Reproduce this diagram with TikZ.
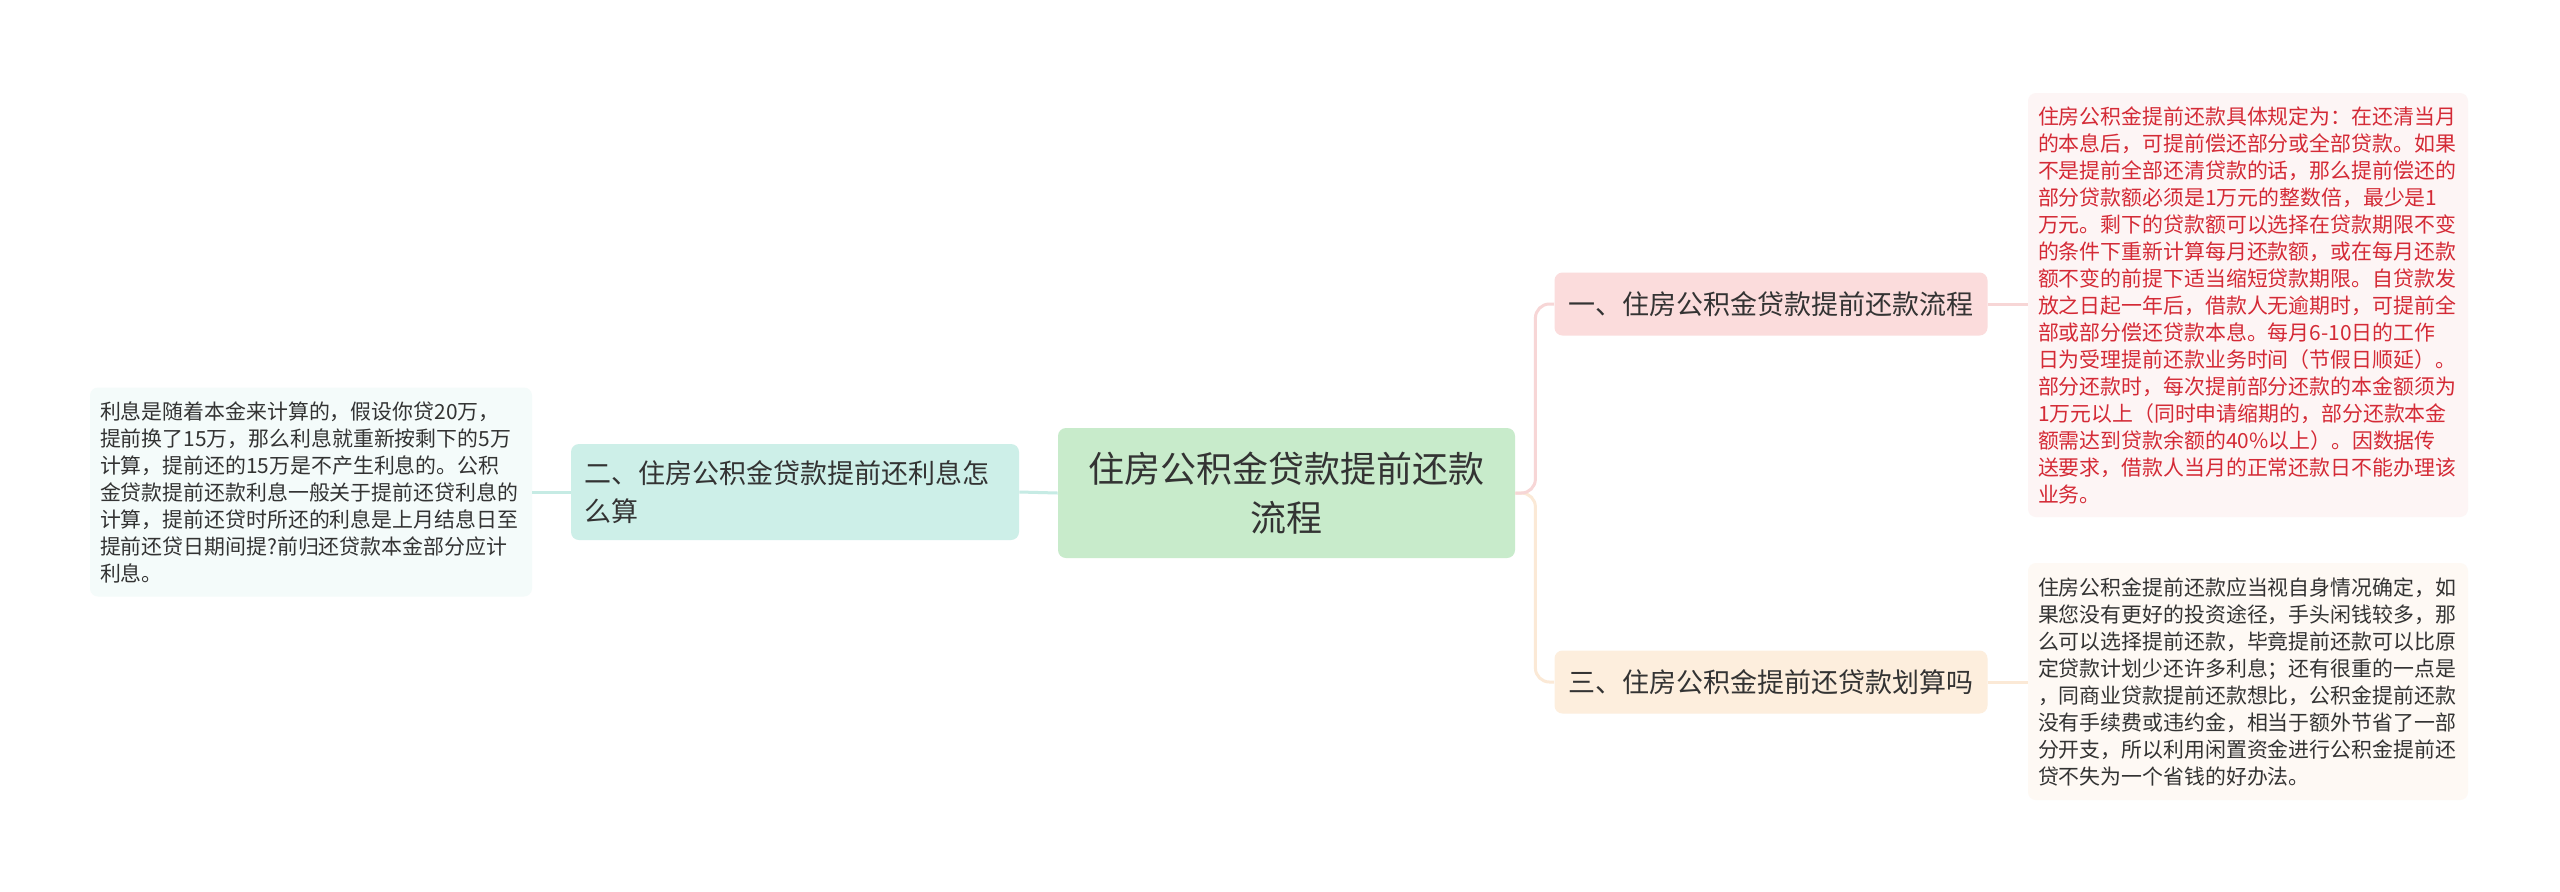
\documentclass[tikz,border=0pt]{standalone}
\usepackage{fontspec}
\setmainfont{Noto Sans CJK SC}
\definecolor{cfill}{HTML}{C8EBCB}
\definecolor{twofill}{HTML}{CDEFE8}
\definecolor{onefill}{HTML}{FBDCDC}
\definecolor{threefill}{HTML}{FDEEDD}
\definecolor{leafa}{HTML}{FDF5F5}
\definecolor{leafb}{HTML}{F4FBFA}
\definecolor{leafc}{HTML}{FEF9F4}
\definecolor{redtext}{HTML}{D42A36}
\definecolor{darktext}{HTML}{333333}
\definecolor{cyanline}{HTML}{C6EBE4}
\definecolor{pinkline}{HTML}{F7D6D6}
\definecolor{creamline}{HTML}{FBE9D6}
\tikzset{
  box/.style={rounded corners=4pt, inner sep=0pt, text=darktext},
  leafbox/.style={box, font=\fontsize{10.45pt}{13.5pt}\selectfont, align=left, inner xsep=5pt},
  conn/.style={line width=1.5pt, rounded corners=7pt}
}
\begin{document}
\begin{tikzpicture}[x=0.5pt,y=-0.5pt]
\useasboundingbox (0,0) rectangle (2560,891);
\fill[white] (0,0) rectangle (2560,891);

% central
\node[box, fill=cfill, minimum width=228.5pt, minimum height=65pt, align=center,
      font=\fontsize{18pt}{24.5pt}\selectfont] (c) at (1286.5,493)
  {住房公积金贷款提前还款\\流程};

% level 1
\node[box, fill=twofill, minimum width=224pt, minimum height=48pt, align=left,
      text width=211pt, inner xsep=6.5pt, font=\fontsize{13.5pt}{19pt}\selectfont] (n2) at (795,492)
  {二、住房公积金贷款提前还利息怎\\么算};
\node[box, fill=onefill, minimum width=216.5pt, minimum height=31.5pt,
      font=\fontsize{13.5pt}{16pt}\selectfont] (n1) at (1771,304)
  {一、住房公积金贷款提前还款流程};
\node[box, fill=threefill, minimum width=216.5pt, minimum height=31.5pt,
      font=\fontsize{13.5pt}{16pt}\selectfont] (n3) at (1771,682)
  {三、住房公积金提前还贷款划算吗};

% leaves
\node[leafbox, fill=leafa, text=redtext, minimum width=220pt, minimum height=212pt, text width=210pt] (l1) at (2248,305)
  {住房公积金提前还款具体规定为：在还清当月\\
   的本息后，可提前偿还部分或全部贷款。如果\\
   不是提前全部还清贷款的话，那么提前偿还的\\
   部分贷款额必须是1万元的整数倍，最少是1\\
   万元。剩下的贷款额可以选择在贷款期限不变\\
   的条件下重新计算每月还款额，或在每月还款\\
   额不变的前提下适当缩短贷款期限。自贷款发\\
   放之日起一年后，借款人无逾期时，可提前全\\
   部或部分偿还贷款本息。每月6-10日的工作\\
   日为受理提前还款业务时间（节假日顺延）。\\
   部分还款时，每次提前部分还款的本金额须为\\
   1万元以上（同时申请缩期的，部分还款本金\\
   额需达到贷款余额的40\%以上）。因数据传\\
   送要求，借款人当月的正常还款日不能办理该\\
   业务。};
\node[leafbox, fill=leafc, minimum width=220pt, minimum height=118.5pt, text width=210pt] (l3) at (2248,681.5)
  {住房公积金提前还款应当视自身情况确定，如\\
   果您没有更好的投资途径，手头闲钱较多，那\\
   么可以选择提前还款，毕竟提前还款可以比原\\
   定贷款计划少还许多利息；还有很重的一点是\\
   ，同商业贷款提前还款想比，公积金提前还款\\
   没有手续费或违约金，相当于额外节省了一部\\
   分开支，所以利用闲置资金进行公积金提前还\\
   贷不失为一个省钱的好办法。};
\node[leafbox, fill=leafb, minimum width=221pt, minimum height=104.5pt, text width=211pt] (l2) at (311,492)
  {利息是随着本金来计算的，假设你贷20万，\\
   提前换了15万，那么利息就重新按剩下的5万\\
   计算，提前还的15万是不产生利息的。公积\\
   金贷款提前还款利息一般关于提前还贷利息的\\
   计算，提前还贷时所还的利息是上月结息日至\\
   提前还贷日期间提?前归还贷款本金部分应计\\
   利息。};

% connectors
\draw[conn, cyanline] (n2.east) -- (c.west);
\draw[conn, cyanline] (l2.east) -- (n2.west);
\draw[conn, creamline] (c.east) -- ++(10pt,0) |- (n3.west);
\draw[conn, pinkline] (c.east) -- ++(10pt,0) |- (n1.west);
\draw[conn, pinkline] (n1.east) -- (n1.east -| l1.west);
\draw[conn, creamline] (n3.east) -- (n3.east -| l3.west);
\end{tikzpicture}
\end{document}
